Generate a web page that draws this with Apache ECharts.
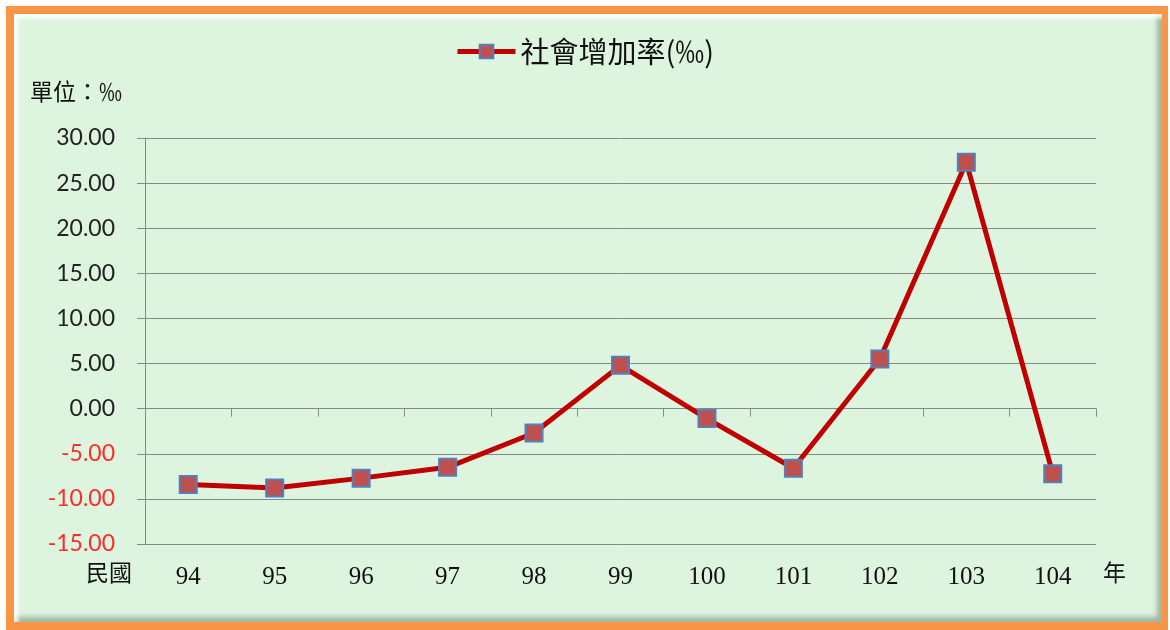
<!DOCTYPE html>
<html>
<head>
<meta charset="utf-8">
<style>
  html, body { margin: 0; padding: 0; background: #fff; }
  .frame {
    position: absolute; left: 6px; top: 6px; width: 1148px; height: 608px;
    border: 8px solid #F79646; border-right-width: 6px; border-bottom-width: 8px;
    background: #DDF4DF;
    box-shadow: inset 4px 4px 4px rgba(255,255,255,0.9), inset -5px -5px 5px rgba(110,130,110,0.55);
  }
  #chart { position: absolute; left: 0; top: 0; width: 1170px; height: 630px; }
</style>
<script src="https://cdn.jsdelivr.net/npm/echarts@6/dist/echarts.min.js"></script>
</head>
<body>
<div class="frame"></div>
<div id="chart"></div>
<script>
// 民國年份
const YEARS = ['94', '95', '96', '97', '98', '99', '100', '101', '102', '103', '104'];
// 社會增加率 (‰)
const RATES = [-8.4, -8.8, -7.7, -6.5, -2.7, 4.8, -1.1, -6.6, 5.5, 27.3, -7.2];
const SERIES_NAME = '社會增加率(‰)';

const CJK = '"Noto Sans CJK TC", serif';

const chart = echarts.init(document.getElementById('chart'));

chart.setOption({
  backgroundColor: 'transparent',
  animation: false,
  legend: {
    top: 32,
    left: 450,
    itemWidth: 58,
    itemHeight: 17,
    itemGap: 4,
    data: [SERIES_NAME],
    lineStyle: { width: 5, color: '#C00000' },
    textStyle: { fontFamily: CJK, fontSize: 29, color: '#111' }
  },
  graphic: [
    { type: 'text', left: 30, top: 80, style: { text: '單位：‰', font: '23px ' + CJK, fill: '#111' } },
    { type: 'text', left: 86, top: 561, style: { text: '民國', font: '23px ' + CJK, fill: '#111' } },
    { type: 'text', left: 1103, top: 561, style: { text: '年', font: '23px ' + CJK, fill: '#111' } }
  ],
  grid: { left: 145, right: 74, top: 138, bottom: 86 },
  xAxis: [
    {
      // 底部標籤
      type: 'category',
      data: YEARS,
      position: 'bottom',
      axisLine: { show: false, onZero: false },
      axisTick: { show: false },
      axisLabel: { margin: 21, fontFamily: 'Liberation Serif', fontSize: 25, color: '#111' }
    },
    {
      // 0 軸線
      type: 'category',
      data: YEARS,
      position: 'bottom',
      axisLine: { show: true, onZero: true, lineStyle: { color: '#888', width: 1 } },
      axisTick: { show: true, length: 8, lineStyle: { color: '#888' } },
      axisLabel: { show: false }
    }
  ],
  yAxis: {
    type: 'value',
    min: -15,
    max: 30,
    interval: 5,
    axisLine: { show: true, lineStyle: { color: '#888' } },
    axisTick: { show: true, length: 8, lineStyle: { color: '#888' } },
    splitLine: { lineStyle: { color: '#888', width: 1 } },
    axisLabel: {
      margin: 30,
      fontFamily: 'Lato',
      fontSize: 23,
      formatter: function (v) { return v.toFixed(2); },
      color: function (v) { return Number(v) < 0 ? '#FF2A2A' : '#222'; }
    }
  },
  series: [{
    name: SERIES_NAME,
    type: 'line',
    data: RATES,
    xAxisIndex: 0,
    symbol: 'rect',
    symbolSize: 17,
    lineStyle: { color: '#C00000', width: 5 },
    itemStyle: { color: '#C0504D', borderColor: '#4F81BD', borderWidth: 2 }
  }]
});
</script>
</body>
</html>
